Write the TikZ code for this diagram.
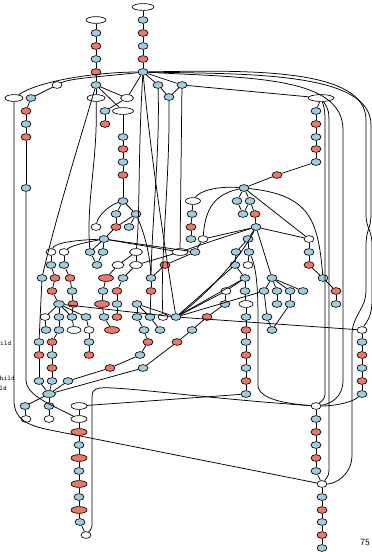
\documentclass[tikz,border=0pt]{standalone}
\usetikzlibrary{shapes.geometric}
\definecolor{lb}{RGB}{160,206,222}
\definecolor{sa}{RGB}{238,120,104}
\begin{document}
\begin{tikzpicture}[x=1pt,y=-1pt,
  nd/.style={ellipse,draw=black,line width=0.65pt,inner sep=0pt,minimum height=6.8pt,minimum width=10pt},
  bl/.style={nd,fill=lb}, rd/.style={nd,fill=sa}, wt/.style={nd,fill=white},
  e/.style={line width=0.75pt,black},
  lbl/.style={font=\ttfamily\fontsize{7}{7}\selectfont,inner sep=0pt,anchor=east}]
\useasboundingbox (0,0) rectangle (372,552);
% blue nodes
\foreach \x/\y in {96/33, 96/59, 96/85, 143/20, 143/46, 143/72, 158/85, 182/85, 169/97, 31/98, 105/111, 26/124, 123/137, 123/162, 26/188, 123/201, 116/214, 136/214, 129/227, 104/239, 90/252, 103/252, 195/252, 51/265, 64/265, 97/265, 42/278, 123/278, 151/278, 72/291, 103/291, 117/304, 137/304, 59/317, 72/317, 86/317, 104/317, 137/317, 150/317, 176/317, 46/330, 59/330, 144/330, 160/330, 39/342, 89/342, 52/355, 140/355, 143/368, 39/381, 52/381, 68/381, 25/406, 49/406, 79/445, 79/471, 79/497, 80/522, 316/111, 316/137, 316/162, 244/188, 237/201, 250/201, 192/214, 243/214, 256/227, 191/239, 248/239, 236/252, 249/252, 309/252, 235/265, 245/278, 272/278, 323/278, 245/291, 264/291, 277/291, 290/291, 303/291, 225/304, 277/304, 290/304, 336/304, 246/317, 267/317, 192/330, 272/330, 246/342, 246/368, 246/394, 362/342, 362/368, 362/394, 316/419, 316/445, 316/471, 322/497, 322/522, 322/548}
  \node[bl] (n\x y\y) at (\x,\y) {};
\foreach \x/\y/\w in {59/304/11, 49/394/13}
  \node[bl,minimum width=\w pt] (n\x y\y) at (\x,\y) {};
% red nodes
\foreach \x/\y in {96/46, 96/72, 143/33, 143/59, 26/111, 105/124, 26/137, 123/149, 123/175, 277/175, 316/124, 316/149, 255/214, 116/227, 191/227, 309/265, 165/265, 55/278, 70/278, 52/291, 117/291, 151/291, 336/291, 73/304, 117/317, 207/317, 246/330, 52/342, 148/342, 177/342, 39/355, 89/355, 246/355, 362/355, 52/368, 110/368, 246/381, 362/381, 316/432, 316/458, 322/510, 322/535}
  \node[rd] (n\x y\y) at (\x,\y) {};
\foreach \x/\y/\w in {106/278/15, 102/304/15, 112/330/15, 79/432/16, 79/458/16, 79/484/16, 79/510/16}
  \node[rd,minimum width=\w pt] (n\x y\y) at (\x,\y) {};
% white nodes
\foreach \x/\y in {57/85, 96/227, 203/239, 309/239, 51/252, 64/252, 248/265, 226/291, 45/317, 163/317, 89/330, 362/330, 316/406, 322/484, 26/419, 49/419, 86/535}
  \node[wt] (n\x y\y) at (\x,\y) {};
\foreach \x/\y/\w in {96/20/20, 143/7/22, 14/98/18, 96/98/18, 127/98/13, 123/111/21, 321/98/26, 193/201/15, 136/252/13, 180/252/16, 118/265/12, 136/265/13, 246/304/14, 74/330/14, 79/406/16, 79/419/16}
  \node[wt,minimum width=\w pt] (n\x y\y) at (\x,\y) {};
% straight connectors
\foreach \a/\b in {n96y20/n96y33, n96y33/n96y46, n96y46/n96y59, n96y59/n96y72, n96y72/n96y85,
 n143y7/n143y20, n143y20/n143y33, n143y33/n143y46, n143y46/n143y59, n143y59/n143y72,
 n143y72/n158y85, n143y72/n182y85, n158y85/n169y97, n182y85/n169y97, n182y85/n321y98,
 n57y85/n31y98, n31y98/n26y111, n26y111/n26y124, n26y124/n26y137, n26y137/n26y188,
 n96y85/n96y98, n96y85/n127y98, n96y85/n123y111, n143y72/n127y98,
 n127y98/n105y111, n105y111/n105y124,
 n123y111/n123y137, n123y137/n123y149, n123y149/n123y162, n123y162/n123y175, n123y175/n123y201,
 n123y201/n116y214, n123y201/n136y214, n116y214/n116y227, n136y214/n129y227, n136y214/n116y227,
 n116y227/n104y239, n104y239/n90y252, n104y239/n103y252, n90y252/n97y265, n103y252/n97y265,
 n136y252/n118y265, n136y252/n136y265, n180y252/n136y265,
 n51y252/n51y265, n64y252/n64y265, n51y265/n55y278, n64y265/n70y278,
 n55y278/n52y291, n70y278/n72y291, n72y291/n73y304, n52y291/n59y304,
 n59y304/n45y317, n59y304/n59y317, n59y304/n72y317, n59y304/n86y317, n73y304/n72y317,
 n45y317/n46y330, n59y317/n59y330, n72y317/n74y330, n86y317/n89y330,
 n59y330/n52y342, n42y278/n39y342,
 n52y342/n52y355, n52y355/n52y368, n52y368/n52y381, n52y381/n49y394,
 n39y342/n39y355, n39y355/n39y381, n39y381/n49y394, n68y381/n49y394,
 n89y330/n89y342, n89y342/n89y355,
 n49y394/n25y406, n49y394/n49y406, n25y406/n26y419, n49y406/n49y419,
 n118y265/n106y278, n136y265/n123y278,
 n106y278/n103y291, n103y291/n102y304, n102y304/n104y317, n104y317/n112y330,
 n123y278/n117y291, n117y291/n117y304, n117y304/n117y317,
 n151y278/n151y291, n151y291/n150y317, n137y304/n137y317, n137y304/n150y317,
 n137y317/n144y330, n150y317/n160y330, n144y330/n148y342, n148y342/n140y355, n140y355/n110y368, n110y368/n68y381,
 n207y317/n192y330, n192y330/n177y342, n177y342/n143y368, n143y368/n49y394,
 n79y406/n79y419, n79y419/n79y432, n79y432/n79y445, n79y445/n79y458, n79y458/n79y471, n79y471/n79y484, n79y484/n79y497, n79y497/n79y510, n79y510/n80y522, n80y522/n86y535,
 n246y394/n79y406,
 n321y98/n316y111, n316y111/n316y124, n316y124/n316y137, n316y137/n316y149, n316y149/n316y162, n316y162/n277y175, n277y175/n244y188,
 n244y188/n237y201, n244y188/n250y201, n237y201/n243y214, n250y201/n243y214, n250y201/n255y214, n255y214/n256y227, n244y188/n309y239,
 n193y201/n192y214, n192y214/n191y227, n191y227/n191y239,
 n256y227/n203y239, n256y227/n248y239, n256y227/n309y239, n256y227/n272y278,
 n248y239/n236y252, n248y239/n249y252, n236y252/n235y265, n249y252/n248y265,
 n309y239/n309y252, n309y252/n309y265, n309y265/n323y278, n323y278/n336y291, n336y291/n336y304,
 n235y265/n245y278, n245y278/n245y291, n245y278/n226y291, n272y278/n264y291, n272y278/n277y291, n272y278/n290y291, n272y278/n303y291,
 n277y291/n277y304, n290y291/n290y304, n264y291/n267y317, n267y317/n272y330, n290y304/n272y330,
 n226y291/n225y304, n245y291/n246y304, n225y304/n207y317, n246y304/n246y317, n246y317/n246y330, n246y330/n246y342, n246y342/n246y355, n246y355/n246y368, n246y368/n246y381, n246y381/n246y394,
 n203y239/n195y252,
 n362y330/n362y342, n362y342/n362y355, n362y355/n362y368, n362y368/n362y381, n362y381/n362y394,
 n316y406/n316y419, n316y419/n316y432, n316y432/n316y445, n316y445/n316y458, n316y458/n316y471, n316y471/n322y484, n322y484/n322y497, n322y497/n322y510, n322y510/n322y522, n322y522/n322y535, n322y535/n322y548,
 n59y304/n176y317, n137y304/n176y317, n226y291/n176y317, n245y278/n176y317, n264y291/n176y317, n235y265/n176y317, n176y317/n362y330, n104y239/n180y252, n104y239/n195y252,
 n195y252/n165y265, n165y265/n151y278, n182y85/n180y252}
  \draw[e] (\a) -- (\b);
% curved connectors
\draw[e] (n143y72) .. controls (110,76) and (70,78) .. (n57y85);
\draw[e] (n143y72) .. controls (100,72) and (40,80) .. (n14y98);
\draw[e] (n96y85) .. controls (80,140) and (55,220) .. (n42y278);
\draw[e] (n96y98) .. controls (98,160) and (86,200) .. (n90y252);
\draw[e] (n14y98) -- (14,400) .. controls (14,418) and (25,425) .. (50,430) -- (n322y484);
\draw[e] (n26y188) -- (26,380) .. controls (26,394) and (45,402) .. (n79y419);
\draw[e] (n104y239) .. controls (80,240) and (55,242) .. (n51y252);
\draw[e] (n104y239) .. controls (88,242) and (72,245) .. (n64y252);
\draw[e] (n123y201) .. controls (110,205) and (98,215) .. (n96y227);
\draw[e] (n136y214) .. controls (145,235) and (150,255) .. (n151y278);
\draw[e] (n143y72) .. controls (150,150) and (165,250) .. (n176y317);
\draw[e] (n143y72) .. controls (138,150) and (140,220) .. (n136y252);
\draw[e] (n158y85) .. controls (160,150) and (152,220) .. (n151y278);
\draw[e] (n169y97) .. controls (170,180) and (160,260) .. (n163y317);
\draw[e] (n143y72) .. controls (250,70) and (366,68) .. (366,120) -- (366,215) .. controls (366,228) and (372,230) .. (372,245) -- (372,300) .. controls (372,318) and (366,322) .. (n362y330);
\draw[e] (n143y72) .. controls (250,74) and (371,72) .. (371,125) -- (371,215) .. controls (371,228) and (366,230) .. (366,245) -- (366,290) .. controls (366,310) and (352,315) .. (352,335) -- (352,455) .. controls (352,475) and (335,484) .. (n322y484);
\draw[e] (n143y72) .. controls (250,78) and (343,76) .. (343,130) -- (343,380) .. controls (343,398) and (330,404) .. (n316y406);
\draw[e] (n321y98) .. controls (325,110) .. (325,130) -- (325,390) .. controls (325,398) .. (n316y406);
\draw[e] (n321y98) .. controls (329,110) .. (329,130) -- (329,465) .. controls (329,475) .. (n322y484);
\draw[e] (n362y394) .. controls (350,404) and (330,406) .. (n316y406);
\draw[e] (n244y188) .. controls (220,186) and (200,190) .. (n193y201);
\draw[e] (n244y188) .. controls (210,195) and (205,215) .. (n203y239);
\draw[e] (n244y188) .. controls (310,195) and (318,220) .. (n323y278);
\draw[e] (n256y227) .. controls (230,235) and (200,245) .. (n180y252);
\draw[e] (n256y227) .. controls (240,260) and (200,300) .. (n176y317);
\draw[e] (n249y252) .. controls (258,270) and (258,300) .. (258,330) -- (258,385) .. controls (258,400) and (290,404) .. (n316y406);
\draw[e] (n316y406) .. controls (200,398) and (120,386) .. (100,388) .. controls (92,390) .. (92,405) -- (92,522) .. controls (92,528) .. (n86y535);
% texts
\node[lbl] (t1) at (11.5,343) {ild};
\node[lbl] (t2) at (15,378) {hild};
\node[lbl] (t3) at (7,388) {ld};
\node[font=\sffamily\fontsize{9.5}{9.5}\selectfont,inner sep=0pt] (t4) at (365,542) {75};
\end{tikzpicture}
\end{document}
